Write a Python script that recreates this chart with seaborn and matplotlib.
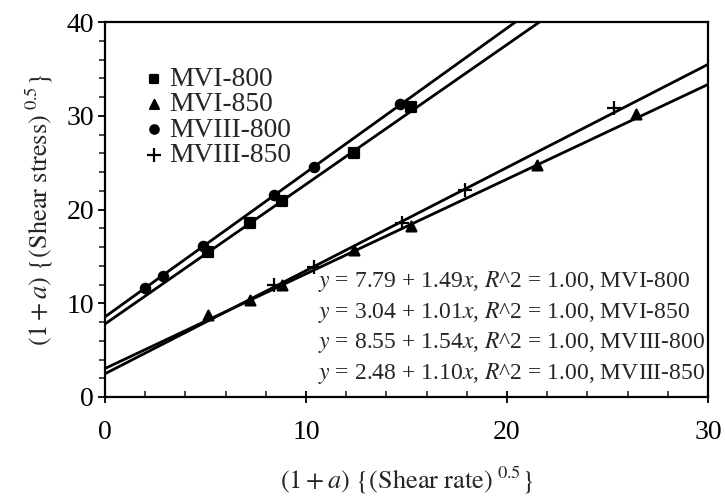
import numpy as np
import pandas as pd
import matplotlib
matplotlib.use("Agg")
import matplotlib.pyplot as plt
from matplotlib.ticker import MultipleLocator
import seaborn as sns

# ---- data ----
series = ["MVI-800", "MVI-850", "MVIII-800", "MVIII-850"]
mvi800_x = [5.1, 7.2, 8.8, 12.4, 15.2]
mvi800_y = [15.5, 18.6, 20.9, 26.0, 30.9]
mvi850_x = [5.1, 7.2, 8.8, 12.4, 15.2, 21.5, 26.4]
mvi850_y = [8.8, 10.3, 11.9, 15.7, 18.2, 24.7, 30.2]
mviii800_x = [2.0, 2.9, 4.9, 8.4, 10.4, 14.7]
mviii800_y = [11.6, 12.9, 16.1, 21.5, 24.5, 31.3]
mviii850_x = [8.4, 10.4, 14.8, 17.9, 25.3]
mviii850_y = [11.9, 13.9, 18.6, 22.1, 30.8]
intercepts = [7.79, 3.04, 8.55, 2.48]
slopes = [1.49, 1.01, 1.54, 1.10]
r2 = [1.00, 1.00, 1.00, 1.00]
x_ticks = [0, 10, 20, 30]
y_ticks = [0, 10, 20, 30, 40]

xs = [mvi800_x, mvi850_x, mviii800_x, mviii850_x]
ys = [mvi800_y, mvi850_y, mviii800_y, mviii850_y]
fit_x = [0, 30]
fits = pd.DataFrame({
    "x": fit_x * 4,
    "y": [b + m * xv for b, m in zip(intercepts, slopes) for xv in fit_x],
    "series": sum([[s] * 2 for s in series], []),
})

sns.set_theme(style="ticks")
plt.rcParams["font.family"] = ["Liberation Serif", "DejaVu Serif"]
plt.rcParams["mathtext.fontset"] = "stix"

fig = plt.figure(figsize=(7.25, 4.97), dpi=100)
ax = fig.add_axes([105 / 725, 1 - 397 / 497, 603 / 725, 375 / 497])

sns.lineplot(data=fits, x="x", y="y", units="series", estimator=None,
             color="black", linewidth=2.0, ax=ax, legend=False)
markers = {"MVI-800": "s", "MVI-850": "^", "MVIII-800": "o", "MVIII-850": "+"}
sizes = {"MVI-800": 45, "MVI-850": 50, "MVIII-800": 45, "MVIII-850": 110}
for s, xv, yv in zip(series, xs, ys):
    sns.scatterplot(x=xv, y=yv, marker=markers[s], s=sizes[s], color="black",
                    edgecolor="black", linewidth=1.6, ax=ax, zorder=3, label=s)

ax.set_xlim(0, 30)
ax.set_ylim(0, 40)
ax.set_xticks(x_ticks)
ax.set_yticks(y_ticks)
ax.xaxis.set_minor_locator(MultipleLocator(2))
ax.yaxis.set_minor_locator(MultipleLocator(2))
ax.tick_params(axis="x", which="major", direction="inout", length=9, width=1.3,
               labelsize=20, pad=12, colors="black")
ax.tick_params(axis="x", which="minor", direction="in", length=4, width=1.2)
ax.tick_params(axis="y", which="major", direction="out", length=5, width=1.3,
               labelsize=20, pad=3, colors="black")
ax.tick_params(axis="y", which="minor", direction="out", length=4, width=1.2)
for sp in ax.spines.values():
    sp.set_linewidth(1.6)
    sp.set_color("black")

ax.set_xlabel(r"$(1 + a)\ \{(\mathrm{Shear\ rate})^{\ 0.5}\}$", fontsize=19, labelpad=14)
ax.set_ylabel(r"$(1 + a)\ \{(\mathrm{Shear\ stress})^{\ 0.5}\}$", fontsize=19, labelpad=8)

leg = ax.legend(loc="upper left", bbox_to_anchor=(0.04, 0.91), frameon=False,
                fontsize=19.8, handletextpad=0.05, labelspacing=0.0,
                borderaxespad=0, handlelength=1.0, markerscale=0.9)

for i, (s, b, m, r) in enumerate(zip(series, intercepts, slopes, r2)):
    ax.text(0.353, 0.307 - i * 0.0813,
            rf"$y$ = {b:.2f} + {m:.2f}$x$, $R$^2 = {r:.2f}, {s}",
            transform=ax.transAxes, fontsize=17.0, ha="left", va="center")

fig.savefig("out.png", dpi=100)
